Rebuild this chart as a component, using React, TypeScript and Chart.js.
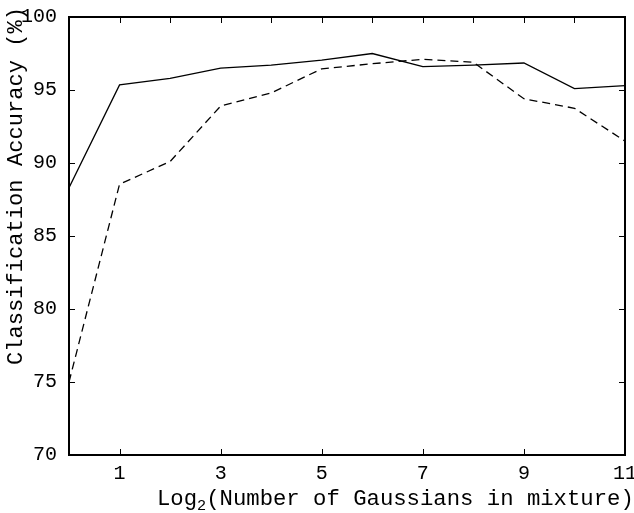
import { useEffect, useRef } from 'react';
import { Chart, registerables } from 'chart.js';

Chart.register(...registerables);

const log2Gaussians = [0, 1, 2, 3, 4, 5, 6, 7, 8, 9, 10, 11];
const solidAccuracy = [88.3, 95.35, 95.8, 96.5, 96.7, 97.05, 97.5, 96.6, 96.7, 96.85, 95.1, 95.3];
const dashedAccuracy = [75.0, 88.55, 90.1, 93.9, 94.8, 96.45, 96.8, 97.1, 96.9, 94.4, 93.75, 91.5];
const xTickLabels = [1, 3, 5, 7, 9, 11];
const topTickValues = [1, 2, 3, 4, 5, 6, 7, 8, 9, 10];
const yTickValues = [70, 75, 80, 85, 90, 95, 100];
const xTitleMain = 'Log';
const xTitleSub = '2';
const xTitleRest = '(Number of Gaussians in mixture)';
const yTitle = 'Classification Accuracy (%)';

const FONT = '"Liberation Mono", "DejaVu Sans Mono", monospace';

const overlay = {
  id: 'overlay',
  afterDraw(chart: any) {
    const { ctx, chartArea: a } = chart;
    const xs = chart.scales.x;
    const ys = chart.scales.y;
    ctx.save();
    ctx.strokeStyle = '#000';
    ctx.lineWidth = 2;
    ctx.strokeRect(a.left, a.top, a.right - a.left, a.bottom - a.top);
    ctx.lineWidth = 1;
    const L = 6;
    ctx.beginPath();
    topTickValues.forEach((v) => {
      const px = Math.round(xs.getPixelForValue(v)) + 0.5;
      ctx.moveTo(px, a.top);
      ctx.lineTo(px, a.top + L);
    });
    xTickLabels.forEach((v) => {
      const px = Math.round(xs.getPixelForValue(v)) + 0.5;
      ctx.moveTo(px, a.bottom);
      ctx.lineTo(px, a.bottom - L);
    });
    yTickValues.forEach((v) => {
      const py = Math.round(ys.getPixelForValue(v)) + 0.5;
      ctx.moveTo(a.left, py);
      ctx.lineTo(a.left + L, py);
      ctx.moveTo(a.right, py);
      ctx.lineTo(a.right - L, py);
    });
    ctx.stroke();

    ctx.fillStyle = '#000';
    ctx.textBaseline = 'alphabetic';
    ctx.textAlign = 'left';

    // x title, fitted between x=157 and the canvas edge
    const xStart = 157;
    const xEnd = a.right + 9;
    ctx.font = `15px ${FONT}`;
    const subW = ctx.measureText(xTitleSub).width;
    ctx.font = `22px ${FONT}`;
    const w0 = ctx.measureText(xTitleMain + xTitleRest).width + subW;
    const k = (xEnd - xStart) / w0;
    const big = `${(22 * k).toFixed(2)}px ${FONT}`;
    const small = `${(15 * k).toFixed(2)}px ${FONT}`;
    let x = xStart;
    const base = a.bottom + 50;
    ctx.font = big;
    ctx.fillText(xTitleMain, x, base);
    x += ctx.measureText(xTitleMain).width;
    ctx.font = small;
    ctx.fillText(xTitleSub, x, base + 5);
    x += ctx.measureText(xTitleSub).width;
    ctx.font = big;
    ctx.fillText(xTitleRest, x, base);

    // y title, fitted between y=365 and y=7
    ctx.save();
    ctx.font = `22px ${FONT}`;
    const wy = ctx.measureText(yTitle).width;
    const ky = (365 - 7) / wy;
    ctx.font = `${(22 * ky).toFixed(2)}px ${FONT}`;
    ctx.translate(22, 365);
    ctx.rotate(-Math.PI / 2);
    ctx.textAlign = 'left';
    ctx.fillText(yTitle, 0, 0);
    ctx.restore();
    ctx.restore();
  },
};

export default function App() {
  const ref = useRef<HTMLCanvasElement>(null);
  useEffect(() => {
    const chart = new Chart(ref.current!, {
      type: 'line',
      data: {
        datasets: [
          {
            data: log2Gaussians.map((x, i) => ({ x, y: solidAccuracy[i] })),
            borderColor: '#000',
            borderWidth: 1.3,
            pointRadius: 0,
            tension: 0,
            fill: false,
          },
          {
            data: log2Gaussians.map((x, i) => ({ x, y: dashedAccuracy[i] })),
            borderColor: '#000',
            borderWidth: 1.3,
            borderDash: [8, 5],
            pointRadius: 0,
            tension: 0,
            fill: false,
          },
        ],
      },
      options: {
        animation: false,
        responsive: false,
        devicePixelRatio: 1,
        layout: { padding: { left: 0, right: 9, top: 17, bottom: 0 } },
        plugins: { legend: { display: false }, tooltip: { enabled: false } },
        scales: {
          x: {
            type: 'linear',
            min: 0,
            max: 11,
            ticks: {
              stepSize: 1,
              autoSkip: false,
              maxRotation: 0,
              padding: -1,
              color: '#000',
              font: { family: FONT, size: 20 },
              callback: (v: any) => (xTickLabels.includes(Number(v)) ? String(v) : ''),
            },
            grid: { display: false },
            border: { display: false },
            afterFit: (s: any) => {
              s.height = 58;
              s.paddingLeft = 0;
              s.paddingRight = 0;
            },
          },
          y: {
            type: 'linear',
            min: 70,
            max: 100,
            ticks: {
              stepSize: 5,
              padding: 4,
              color: '#000',
              font: { family: FONT, size: 20 },
            },
            grid: { display: false },
            border: { display: false },
            afterFit: (s: any) => {
              s.width = 69;
              s.paddingTop = 0;
              s.paddingBottom = 0;
            },
          },
        },
      },
      plugins: [overlay],
    } as any);
    return () => chart.destroy();
  }, []);
  return (
    <div style={{ position: 'fixed', left: 0, top: 0, width: 634, height: 513, background: '#fff' }}>
      <canvas ref={ref} width={634} height={513} />
    </div>
  );
}
